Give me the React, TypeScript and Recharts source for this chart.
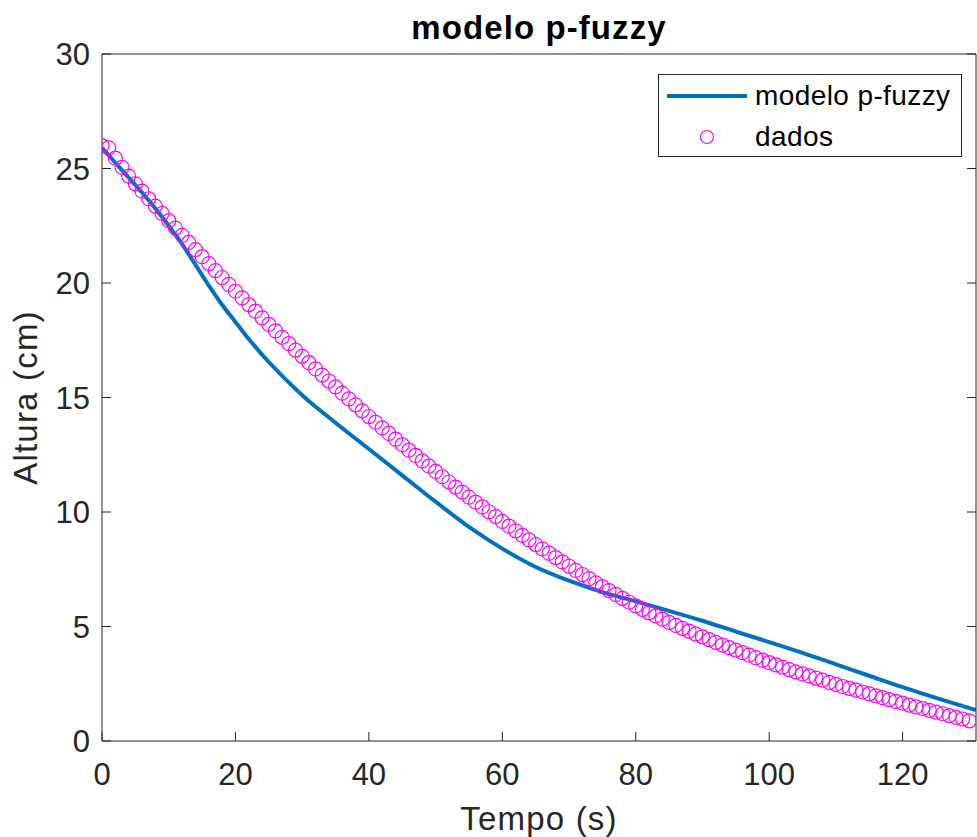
import { ComposedChart, Line, Scatter, XAxis, YAxis, Legend } from "recharts";

const FONT = "'Liberation Sans', Arial, Helvetica, sans-serif";
const INK = "#262626";
const BLUE = "#0072BD";
const MAGENTA = "#FF00FF";

// measured heights, one sample per second starting at t = 0
const dadosAltura = [
  26.0, 25.9, 25.45, 25.05, 24.67, 24.33, 24.01, 23.68, 23.36, 23.04,
  22.72, 22.4, 22.08, 21.77, 21.46, 21.15, 20.85, 20.54, 20.24, 19.94,
  19.64, 19.35, 19.06, 18.77, 18.48, 18.19, 17.91, 17.63, 17.35, 17.07,
  16.8, 16.52, 16.25, 15.98, 15.72, 15.46, 15.19, 14.94, 14.68, 14.42,
  14.17, 13.92, 13.67, 13.43, 13.18, 12.94, 12.7, 12.47, 12.23, 12.0,
  11.77, 11.54, 11.31, 11.09, 10.87, 10.65, 10.43, 10.22, 10.01, 9.8,
  9.59, 9.38, 9.18, 8.98, 8.78, 8.58, 8.39, 8.2, 8.01, 7.82,
  7.63, 7.45, 7.27, 7.09, 6.91, 6.74, 6.57, 6.4, 6.23, 6.06,
  5.9, 5.75, 5.6, 5.46, 5.32, 5.18, 5.05, 4.92, 4.8, 4.67,
  4.55, 4.43, 4.31, 4.19, 4.08, 3.97, 3.86, 3.75, 3.64, 3.53,
  3.42, 3.32, 3.22, 3.12, 3.02, 2.93, 2.84, 2.75, 2.66, 2.56,
  2.47, 2.38, 2.3, 2.22, 2.14, 2.06, 1.97, 1.89, 1.81, 1.73,
  1.65, 1.57, 1.49, 1.42, 1.34, 1.26, 1.19, 1.11, 1.03, 0.96,
  0.88,
];

// p-fuzzy model output
const modeloTempo = [
  0, 2, 4, 6, 8, 10, 12, 14, 16, 18, 20, 22, 25, 30, 35, 40, 45, 50, 55, 60,
  65, 70, 75, 80, 85, 90, 95, 100, 105, 110, 115, 120, 125, 131,
];
const modeloAltura = [
  25.9, 25.25, 24.6, 23.95, 23.25, 22.5, 21.7, 20.8, 19.9, 19.05, 18.3, 17.55,
  16.55, 15.1, 13.9, 12.75, 11.6, 10.45, 9.35, 8.4, 7.6, 7.0, 6.5, 6.1, 5.68,
  5.25, 4.78, 4.32, 3.85, 3.35, 2.85, 2.35, 1.88, 1.35,
];

const xTicks = [0, 20, 40, 60, 80, 100, 120];
const yTicks = [0, 5, 10, 15, 20, 25, 30];

const SERIE_MODELO = "modelo p-fuzzy";
const SERIE_DADOS = "dados";

const dados = dadosAltura.map((h, i) => ({ t: i, h }));
const modelo = modeloTempo.map((t, i) => ({ t, h: modeloAltura[i] }));

const tickStyle = { fontSize: 31, fill: INK, fontFamily: FONT };
const blank = () => "";

function Circulo(props: any) {
  const { cx, cy } = props;
  if (cx == null || cy == null) return null;
  return <circle cx={cx} cy={cy} r={7} fill="none" stroke={MAGENTA} strokeWidth={1.2} />;
}

// MATLAB legend order: line first, markers second
function LegendBox() {
  const rows = [
    { name: SERIE_MODELO, kind: "line" },
    { name: SERIE_DADOS, kind: "marker" },
  ];
  return (
    <div
      style={{
        boxSizing: "border-box",
        width: 304,
        height: 83,
        border: `1px solid ${INK}`,
        background: "#fff",
        paddingTop: 0.5,
        fontFamily: FONT,
        fontSize: 28,
        color: "#000",
      }}
    >
      {rows.map((row) => (
        <div key={row.name} style={{ display: "flex", alignItems: "center", height: 41 }}>
          <svg width={80} height={20} style={{ marginLeft: 8, marginRight: 8, flex: "none" }}>
            {row.kind === "line" ? (
              <line x1={0} y1={10} x2={80} y2={10} stroke={BLUE} strokeWidth={4} />
            ) : (
              <circle cx={40} cy={10} r={6.5} fill="none" stroke={MAGENTA} strokeWidth={1.2} />
            )}
          </svg>
          <span style={{ letterSpacing: 0.4, lineHeight: 1, whiteSpace: "nowrap" }}>{row.name}</span>
        </div>
      ))}
    </div>
  );
}

export default function App() {
  return (
    <div
      style={{
        position: "absolute",
        left: 0,
        top: 0,
        width: 977,
        height: 837,
        overflow: "hidden",
        background: "#fff",
      }}
    >
      <ComposedChart width={990} height={837} margin={{ top: 0, right: 0, bottom: 0, left: 0 }}>
        <XAxis
          dataKey="t"
          type="number"
          domain={[0, 131]}
          allowDataOverflow
          ticks={xTicks}
          interval={0}
          height={96}
          tickSize={-9}
          tickMargin={31}
          tick={tickStyle}
          stroke={INK}
          axisLine={{ stroke: INK }}
          tickLine={{ stroke: INK }}
          label={{
            value: "Tempo (s)",
            position: "insideBottom",
            offset: 7,
            style: { fontSize: 33, fill: INK, fontFamily: FONT, letterSpacing: 1.2 },
          }}
        />
        <XAxis
          xAxisId="top"
          orientation="top"
          type="number"
          domain={[0, 131]}
          allowDataOverflow
          ticks={xTicks}
          interval={0}
          height={54}
          tickSize={-9}
          tickFormatter={blank}
          stroke={INK}
          label={{
            value: "modelo p-fuzzy",
            position: "center",
            style: { fontSize: 33, fontWeight: 700, fill: "#000", fontFamily: FONT, letterSpacing: 1.1 },
          }}
        />
        <YAxis
          dataKey="h"
          type="number"
          domain={[0, 30]}
          allowDataOverflow
          ticks={yTicks}
          interval={0}
          width={102}
          tickSize={-9}
          tickMargin={21}
          tick={tickStyle}
          stroke={INK}
          label={{
            value: "Altura (cm)",
            angle: -90,
            position: "insideLeft",
            offset: 25,
            style: { fontSize: 33, fill: INK, fontFamily: FONT, letterSpacing: 1.2, textAnchor: "middle" },
          }}
        />
        <YAxis
          yAxisId="right"
          orientation="right"
          type="number"
          domain={[0, 30]}
          allowDataOverflow
          ticks={yTicks}
          interval={0}
          width={14}
          tickSize={-9}
          tickFormatter={blank}
          stroke={INK}
        />
        <Legend
          layout="vertical"
          align="center"
          verticalAlign="middle"
          wrapperStyle={{ left: 658, top: 74, width: 304, height: 83 }}
          content={<LegendBox />}
        />
        <Line
          data={modelo}
          dataKey="h"
          name={SERIE_MODELO}
          type="monotone"
          stroke={BLUE}
          strokeWidth={4}
          dot={false}
          activeDot={false}
          legendType="line"
          isAnimationActive={false}
        />
        <Scatter
          data={dados}
          dataKey="h"
          name={SERIE_DADOS}
          legendType="circle"
          shape={<Circulo />}
          isAnimationActive={false}
        />
      </ComposedChart>
    </div>
  );
}
